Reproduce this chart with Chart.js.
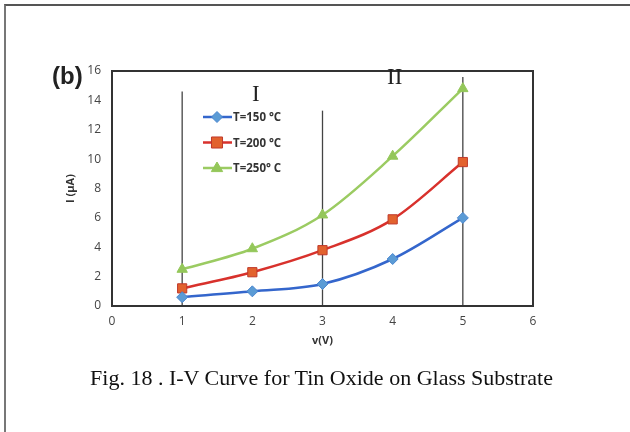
<!DOCTYPE html>
<html lang="en">

<head>
    <meta charset="UTF-8">
    <title>I-V Curve</title>
    <script src="https://cdn.jsdelivr.net/npm/chart.js"></script>
    <style>
        body { margin: 0; background: #fff; }
        #moldura { position: absolute; left: 4px; top: 4px; width: 626px; height: 428px; border-top: 2px solid #555; border-left: 2px solid #777; }
        #grafico { position: absolute; left: 0; top: 0; }
        #letra { position: absolute; left: 52px; top: 62px; font: bold 24px "Liberation Sans", Arial, sans-serif; color: #222; }
        #legenda { position: absolute; left: 0; top: 365px; width: 643px; text-align: center; font: 22px "Liberation Serif", "Times New Roman", serif; color: #111; }
    </style>
</head>

<body onload="desenharGrafico()">
    <div id="moldura"></div>
    <canvas id="grafico" width="630" height="432"></canvas>
    <div id="letra">(b)</div>
    <div id="legenda">Fig. 18 . I-V Curve for Tin Oxide on Glass Substrate</div>
</body>

</html>
<script>
    // tensoes (V)
    const tensoes = [1, 2, 3, 4, 5]
    // correntes (uA)
    const corrente150 = [0.6, 1.0, 1.5, 3.2, 6.0]
    const corrente200 = [1.2, 2.3, 3.8, 5.9, 9.8]
    const corrente250 = [2.5, 3.9, 6.2, 10.2, 14.8]
    const nomesSeries = ['T=150 °C', 'T=200 °C', 'T=250° C']

    const ticksX = [0, 1, 2, 3, 4, 5, 6]
    const ticksY = [0, 2, 4, 6, 8, 10, 12, 14, 16]

    // linhas verticais que separam as regioes
    const divisoresX = [1, 3, 5]
    const divisoresTopo = [14.6, 13.3, 15.6]
    const regioes = ['I', 'II']
    const regioesX = [2.05, 4.03]
    const regioesY = [14.35, 15.55]

    function pontos(valores) {
        return tensoes.map((v, i) => ({ x: v, y: valores[i] }))
    }

    // marcador simples para a legenda
    function marcador(ctx, estilo, r, x, y) {
        ctx.beginPath()
        if (estilo == 'rect') {
            ctx.rect(x - r * 0.85, y - r * 0.85, r * 1.7, r * 1.7)
        } else if (estilo == 'rectRot') {
            ctx.moveTo(x, y - r)
            ctx.lineTo(x + r, y)
            ctx.lineTo(x, y + r)
            ctx.lineTo(x - r, y)
            ctx.closePath()
        } else {
            ctx.moveTo(x, y - r)
            ctx.lineTo(x + r * 0.95, y + r * 0.6)
            ctx.lineTo(x - r * 0.95, y + r * 0.6)
            ctx.closePath()
        }
        ctx.fill()
        ctx.stroke()
    }

    function desenharGrafico() {
        const series = [
            { label: nomesSeries[0], data: pontos(corrente150), borderColor: '#3466cc', backgroundColor: '#5b9bd5', pointStyle: 'rectRot', pointRadius: 5.5, pointBorderColor: '#4a86cf' },
            { label: nomesSeries[1], data: pontos(corrente200), borderColor: '#d8312c', backgroundColor: '#e2622e', pointStyle: 'rect', pointRadius: 6.5, pointBorderColor: '#c0392b' },
            { label: nomesSeries[2], data: pontos(corrente250), borderColor: '#9bcb62', backgroundColor: '#94c75a', pointStyle: 'triangle', pointRadius: 6, pointBorderColor: '#94c75a' }
        ]

        let datasets = []
        for (let i = 0; i < divisoresX.length; i++) {
            datasets.push({
                label: 'div' + i,
                data: [{ x: divisoresX[i], y: 0 }, { x: divisoresX[i], y: divisoresTopo[i] }],
                borderColor: '#444',
                borderWidth: 1.3,
                pointRadius: 0,
                tension: 0,
                order: 5
            })
        }
        for (let i = 0; i < series.length; i++) {
            datasets.push(Object.assign({
                borderWidth: 2.5,
                pointBorderWidth: 1,
                cubicInterpolationMode: 'monotone',
                order: 1,
                serie: true
            }, series[i]))
        }

        const extras = {
            id: 'extras',
            afterDatasetsDraw(chart) {
                const ctx = chart.ctx
                const area = chart.chartArea
                const sx = chart.scales.x
                const sy = chart.scales.y

                // moldura do grafico
                ctx.save()
                ctx.strokeStyle = '#333'
                ctx.lineWidth = 2
                ctx.strokeRect(area.left, area.top, area.right - area.left, area.bottom - area.top)

                // numeros romanos
                ctx.fillStyle = '#222'
                ctx.font = '23px "Liberation Serif", serif'
                ctx.textAlign = 'center'
                ctx.textBaseline = 'middle'
                for (let i = 0; i < regioes.length; i++) {
                    ctx.fillText(regioes[i], sx.getPixelForValue(regioesX[i]), sy.getPixelForValue(regioesY[i]))
                }

                // legenda dentro da area
                ctx.font = 'bold 11.5px "Open Sans", sans-serif'
                ctx.textAlign = 'left'
                let linhaY = 117
                chart.data.datasets.filter(d => d.serie).forEach(function (d) {
                    ctx.strokeStyle = d.borderColor
                    ctx.lineWidth = 2.5
                    ctx.beginPath()
                    ctx.moveTo(203, linhaY)
                    ctx.lineTo(232, linhaY)
                    ctx.stroke()
                    ctx.fillStyle = d.backgroundColor
                    ctx.strokeStyle = d.pointBorderColor
                    ctx.lineWidth = 1
                    marcador(ctx, d.pointStyle, d.pointRadius, 217, linhaY)
                    ctx.fillStyle = '#333'
                    ctx.fillText(d.label, 233, linhaY + 1)
                    linhaY += 25.5
                })
                ctx.restore()
            }
        }

        new Chart(document.getElementById('grafico'), {
            type: 'line',
            data: { datasets: datasets },
            plugins: [extras],
            options: {
                responsive: false,
                animation: false,
                layout: {
                    padding: { left: 60, right: 97, top: 71, bottom: 81 }
                },
                plugins: {
                    legend: { display: false },
                    tooltip: { enabled: false }
                },
                scales: {
                    x: {
                        type: 'linear',
                        min: 0,
                        max: 6,
                        afterBuildTicks: function (s) { s.ticks = ticksX.map(v => ({ value: v })) },
                        afterFit: function (s) { s.height = 45 },
                        grid: { display: false },
                        border: { display: false },
                        ticks: { color: '#444', font: { family: 'Open Sans', size: 12 }, padding: 0 },
                        title: { display: true, text: 'v(V)', color: '#333', font: { family: 'Open Sans', size: 11, weight: 'bold' }, padding: 4 }
                    },
                    y: {
                        min: 0,
                        max: 16,
                        afterBuildTicks: function (s) { s.ticks = ticksY.map(v => ({ value: v })) },
                        afterFit: function (s) { s.width = 52 },
                        grid: { display: false },
                        border: { display: false },
                        ticks: { color: '#444', font: { family: 'Open Sans', size: 12 }, padding: 3 },
                        title: { display: true, text: 'I (µA)', color: '#333', font: { family: 'Open Sans', size: 11, weight: 'bold' }, padding: 4 }
                    }
                }
            }
        })
    }
</script>
